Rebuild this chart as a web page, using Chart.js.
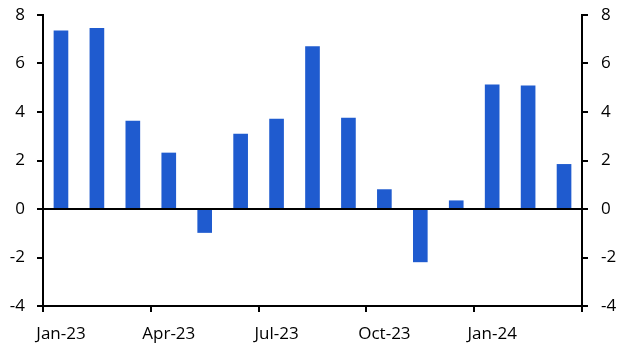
<!DOCTYPE html>
<html>
<head>
<meta charset="utf-8">
<script src="https://cdn.jsdelivr.net/npm/chart.js@4/dist/chart.umd.min.js"></script>
<style>
  html, body { margin: 0; padding: 0; background: #fff; }
  #wrap { width: 631px; height: 360px; }
</style>
</head>
<body>
<div id="wrap"><canvas id="myChart"></canvas></div>
<script>
'use strict';

// monthly values, Jan-23 .. Mar-24
var months = ['Jan-23', 'Feb-23', 'Mar-23', 'Apr-23', 'May-23', 'Jun-23', 'Jul-23', 'Aug-23',
              'Sep-23', 'Oct-23', 'Nov-23', 'Dec-23', 'Jan-24', 'Feb-24', 'Mar-24'];
var values = [7.35, 7.45, 3.63, 2.31, -0.97, 3.09, 3.71, 6.70, 3.75, 0.80, -2.18, 0.34, 5.12, 5.08, 1.84];
var xTickLabels = ['Jan-23', 'Apr-23', 'Jul-23', 'Oct-23', 'Jan-24', ''];
var yTicks = [-4, -2, 0, 2, 4, 6, 8];

// bars sit in the middle of each month slot, tick marks at slot boundaries
var points = [];
for (var i = 0; i < months.length; i++) {
    points.push({ x: i + 0.5, y: values[i] });
}

var font = { family: 'Open Sans', size: 17 };

// fixed axis widths, and don't let tick padding push the plot down
function fitY(w) {
    return function (s) {
        s.width = w;
        s.paddingTop = 0;
        s.paddingBottom = 0;
    };
}

var ctx = document.getElementById('myChart').getContext('2d');

var chart = new Chart(ctx, {
    type: 'bar',
    data: {
        datasets: [{
            label: 'Value',
            data: points,
            backgroundColor: '#1f5bcf',
            borderWidth: 0,
            barThickness: 14
        }]
    },
    options: {
        responsive: true,
        maintainAspectRatio: false,
        animation: false,
        layout: { padding: { top: 15, left: 0, right: 0, bottom: 0 } },
        plugins: {
            legend: { display: false },
            tooltip: { enabled: false }
        },
        scales: {
            x: {
                type: 'linear',
                position: 'bottom',
                offset: false,
                min: 0,
                max: months.length,
                afterFit: function (s) { s.height = 54; },
                afterBuildTicks: function (s) {
                    s.ticks = xTickLabels.map(function (l, k) { return { value: k * 3 }; });
                },
                ticks: {
                    autoSkip: false,
                    maxRotation: 0,
                    color: '#000',
                    font: font,
                    padding: 12,
                    labelOffset: 18, // label sits under the month, not on the tick
                    callback: function (v) { return xTickLabels[v / 3]; }
                },
                grid: { offset: false, drawOnChartArea: false, drawTicks: true, tickLength: 6, color: '#000', lineWidth: 2 },
                border: { display: true, color: '#000', width: 2 }
            },
            y: {
                position: 'left',
                min: -4,
                max: 8,
                afterFit: fitY(43),
                afterBuildTicks: function (s) {
                    s.ticks = yTicks.map(function (v) { return { value: v }; });
                },
                ticks: { color: '#000', font: font, padding: 12 },
                grid: {
                    z: 1,
                    drawTicks: true,
                    tickLength: 6,
                    lineWidth: 2,
                    tickColor: '#000',
                    color: function (c) { return c.tick && c.tick.value === 0 ? '#000' : 'rgba(0,0,0,0)'; }
                },
                border: { z: 1, display: true, color: '#000', width: 2 }
            },
            y2: {
                position: 'right',
                min: -4,
                max: 8,
                afterFit: fitY(49),
                afterBuildTicks: function (s) {
                    s.ticks = yTicks.map(function (v) { return { value: v }; });
                },
                ticks: { color: '#000', font: font, padding: 13 },
                grid: { drawOnChartArea: false, drawTicks: true, tickLength: 6, color: '#000', lineWidth: 2 },
                border: { display: true, color: '#000', width: 2 }
            }
        }
    }
});
</script>
</body>
</html>
